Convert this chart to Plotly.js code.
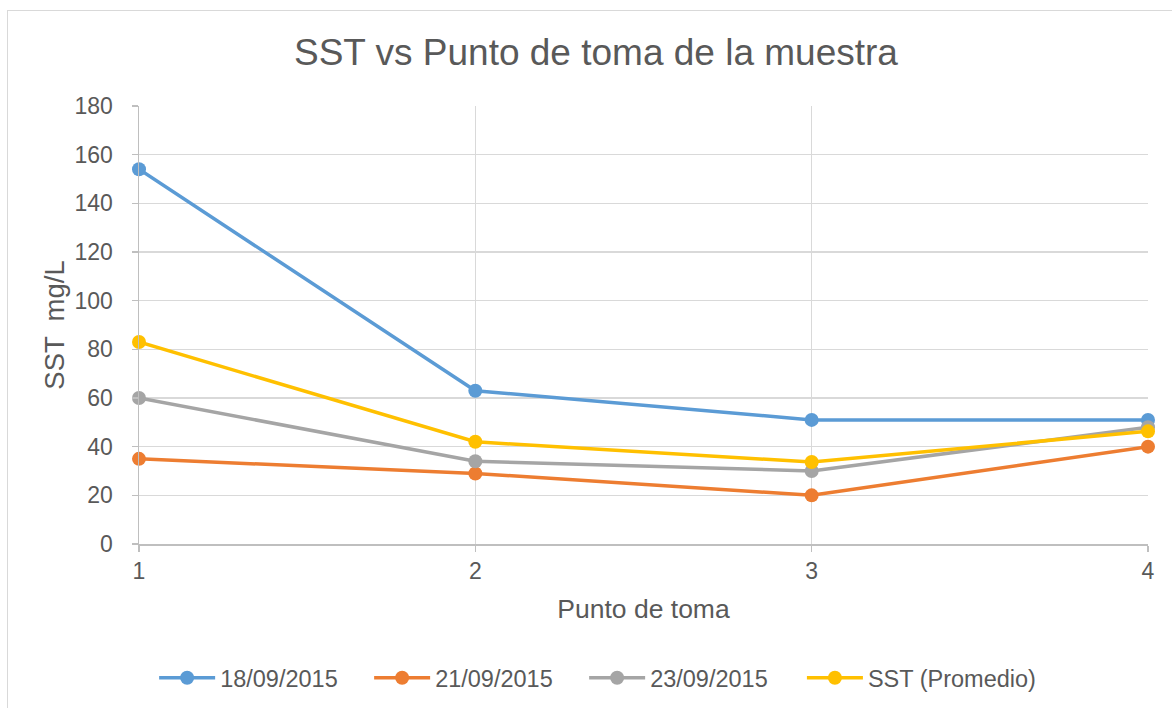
<!DOCTYPE html>
<html>
<head>
<meta charset="utf-8">
<script src="https://cdn.plot.ly/plotly-3.0.1.min.js"></script>
<style>
html,body{margin:0;padding:0;background:#fff;}
#wrap{position:relative;width:1172px;height:708px;overflow:hidden;}
#chart{position:absolute;left:0;top:0;width:1172px;height:708px;}
#frame{position:absolute;left:7px;top:10px;width:1300px;height:900px;border-left:1px solid #d9d9d9;border-top:1px solid #d9d9d9;pointer-events:none;}
</style>
</head>
<body>
<div id="wrap"><div id="chart"></div><div id="frame"></div></div>
<script>
const puntos = [1, 2, 3, 4];
const serie18 = [154, 63, 51, 51];
const serie21 = [35, 29, 20, 40];
const serie23 = [60, 34, 30, 48];
const promedio = [83, 42, 33.7, 46.3];
const nombres = ['18/09/2015', '21/09/2015', '23/09/2015', 'SST (Promedio)'];
const colores = ['#5B9BD5', '#ED7D31', '#A5A5A5', '#FFC000'];
const series = [serie18, serie21, serie23, promedio];

const traces = series.map((s, i) => ({
  x: puntos, y: s, name: nombres[i], type: 'scatter', mode: 'lines+markers',
  line: {color: colores[i], width: 3.5},
  marker: {color: colores[i], size: 14},
  cliponaxis: false,
  legend: i === 3 ? 'legend2' : 'legend'
}));

const txt = '#595959';
const legendBase = {
  orientation: 'h', yanchor: 'middle', y: -0.306, xanchor: 'left',
  font: {size: 23.5, color: txt}, itemwidth: 56, bgcolor: 'rgba(0,0,0,0)'
};
const layout = {
  width: 1172, height: 708,
  paper_bgcolor: 'rgba(0,0,0,0)', plot_bgcolor: 'rgba(0,0,0,0)',
  font: {family: 'Liberation Sans, Arial, sans-serif', color: txt},
  margin: {l: 139, r: 24, t: 106, b: 164, autoexpand: false},
  title: {text: 'SST vs Punto de toma de la muestra', font: {size: 37, color: txt}, x: 0.5085, xref: 'container', xanchor: 'center', y: 0.926, yanchor: 'middle', yref: 'container'},
  xaxis: {
    range: [1, 4], tickvals: puntos, ticktext: puntos.map(String),
    showgrid: true, gridcolor: '#d9d9d9', gridwidth: 1.5,
    showline: true, linecolor: '#bfbfbf', linewidth: 1.5,
    ticks: 'outside', ticklen: 6, tickcolor: '#bfbfbf', tickwidth: 1.5,
    tickfont: {size: 23, color: txt}, zeroline: false,
    title: {text: 'Punto de toma', font: {size: 26.5, color: txt}, standoff: 16}
  },
  yaxis: {
    range: [0, 180], tick0: 0, dtick: 20,
    showgrid: true, gridcolor: '#d9d9d9', gridwidth: 1.5,
    showline: true, linecolor: '#bfbfbf', linewidth: 1.5,
    ticks: 'outside', ticklen: 6, tickcolor: '#bfbfbf', tickwidth: 1.5,
    tickfont: {size: 23, color: txt}, zeroline: false, ticklabelstandoff: 14,
    title: {text: 'SST  mg/L', font: {size: 27.5, color: txt}, standoff: 2}
  },
  legend: Object.assign({}, legendBase, {x: 0.015, entrywidth: 144, entrywidthmode: 'pixels'}),
  legend2: Object.assign({}, legendBase, {x: 0.657}),
  showlegend: true
};

Plotly.newPlot('chart', traces, layout, {displayModeBar: false, staticPlot: true});
</script>
</body>
</html>
